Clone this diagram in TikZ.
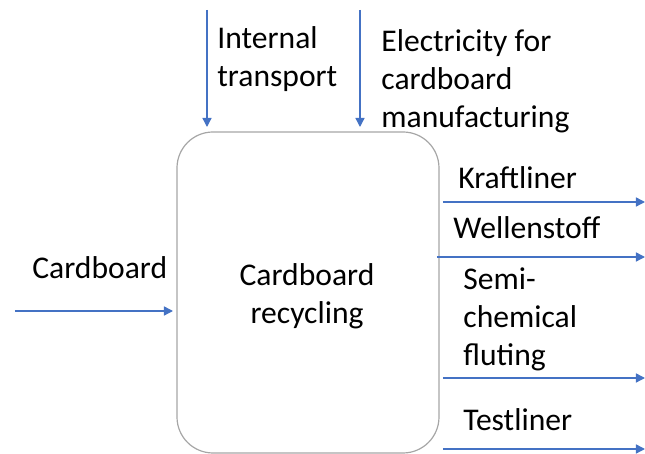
\documentclass[tikz,border=0pt]{standalone}
\usepackage{fontspec}
\setmainfont{Carlito}
\usetikzlibrary{arrows.meta}
\definecolor{flowblue}{HTML}{4472C4}
\definecolor{boxgray}{HTML}{A6A6A6}
\tikzset{
  flow/.style={draw=flowblue, line width=0.7pt, -{Triangle[length=4.5pt,width=4.5pt]}},
  lbl/.style={anchor=base west, inner sep=0pt, align=left, font=\fontsize{15.8}{19}\selectfont},
  proclabel/.style={anchor=base, inner sep=0pt, align=center, font=\fontsize{15.8}{19}\selectfont},
  procbox/.style={draw=boxgray, line width=0.6pt, rounded corners=18pt, minimum width=131pt, minimum height=160.5pt, inner sep=0pt}
}
\begin{document}
\begin{tikzpicture}[x=0.5pt, y=-0.5pt]
\useasboundingbox (0,0) rectangle (645,454);
\node[procbox] (proc) at (308,292.5) {};
\node[proclabel] (proclbl) at (307,324) {Cardboard\\recycling};
% inputs
\coordinate (inS) at (15,311);
\coordinate (inE) at (173,311);
\draw[flow] (inS) -- (inE);
\node[lbl] (inlbl) at (32,279) {Cardboard};
\coordinate (itS) at (207,10);
\coordinate (itE) at (207,127);
\draw[flow] (itS) -- (itE);
\node[lbl] (itlbl) at (217,87) {Internal\\transport};
\coordinate (elS) at (360,10);
\coordinate (elE) at (360,127);
\draw[flow] (elS) -- (elE);
\node[lbl] (ellbl) at (381,128) {Electricity for\\cardboard\\manufacturing};
% outputs
\coordinate (o1S) at (443,202);
\coordinate (o1E) at (645,202);
\draw[flow] (o1S) -- (o1E);
\node[lbl] (o1lbl) at (458,189) {Kraftliner};
\coordinate (o2S) at (437,257);
\coordinate (o2E) at (645,257);
\draw[flow] (o2S) -- (o2E);
\node[lbl] (o2lbl) at (453,239) {Wellenstoff};
\coordinate (o3S) at (443,378);
\coordinate (o3E) at (645,378);
\draw[flow] (o3S) -- (o3E);
\node[lbl] (o3lbl) at (463,366) {Semi-\\chemical\\fluting};
\coordinate (o4S) at (443,449);
\coordinate (o4E) at (645,449);
\draw[flow] (o4S) -- (o4E);
\node[lbl] (o4lbl) at (463,431) {Testliner};
\end{tikzpicture}
\end{document}
